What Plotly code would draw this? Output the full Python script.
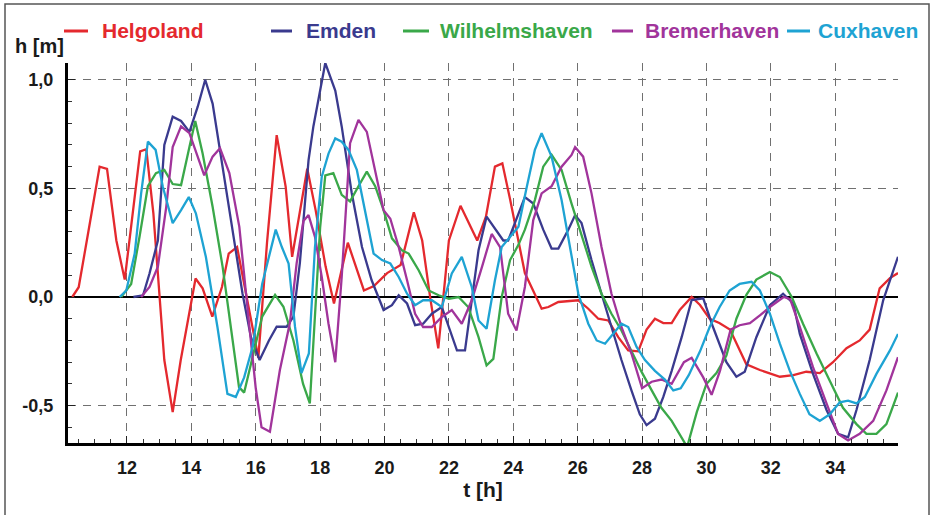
import plotly.graph_objects as go

# ---------------- data ----------------
t_hel = [10.3, 10.5, 10.8, 11.15, 11.38, 11.67, 11.93, 12.15, 12.41, 12.6,
         12.82, 13.16, 13.42, 13.67, 14.13, 14.35, 14.65, 14.95, 15.16, 15.42,
         15.7, 16.08, 16.35, 16.65, 16.93, 17.13, 17.6, 17.86, 18.17, 18.43,
         18.86, 19.36, 19.67, 20.08, 20.5, 20.91, 21.17, 21.43, 21.67, 22.0,
         22.36, 22.88, 23.15, 23.43, 23.66, 23.9, 24.36, 24.62, 24.88, 25.09,
         25.4, 26.02, 26.33, 26.64, 26.95, 27.26, 27.57, 27.88, 28.14, 28.4,
         28.66, 28.92, 29.17, 29.54, 29.8, 30.1, 30.4, 30.73, 31.24, 31.66,
         32.28, 32.7, 33.1, 33.52, 33.93, 34.35, 34.76, 35.07, 35.38, 35.7,
         35.95]
h_hel = [0.0, 0.045, 0.3, 0.60, 0.59, 0.26, 0.08, 0.35, 0.67, 0.68,
         0.385, -0.29, -0.53, -0.29, 0.085, 0.04, -0.09, 0.046, 0.2, 0.23,
         0.02, -0.28, 0.25, 0.745, 0.507, 0.185, 0.59, 0.4, 0.14, -0.03,
         0.25, 0.03, 0.05, 0.11, 0.147, 0.39, 0.26, -0.014, -0.236, 0.26,
         0.42, 0.26, 0.37, 0.6, 0.615, 0.45, 0.11, 0.03, -0.054, -0.046,
         -0.023, -0.015, -0.054, -0.1, -0.108, -0.185, -0.246, -0.25, -0.15, -0.1,
         -0.12, -0.12, -0.06, 0.0, -0.037, -0.1, -0.12, -0.15, -0.31, -0.336,
         -0.367, -0.36, -0.344, -0.35, -0.3, -0.236, -0.2, -0.15, 0.04, 0.087,
         0.11]

t_emd = [12.2, 12.5, 12.7, 12.96, 13.16, 13.42, 13.68, 13.94, 14.2, 14.43,
         14.66, 14.97, 15.28, 15.59, 15.85, 16.12, 16.41, 16.65, 16.96, 17.17,
         17.37, 17.64, 17.79, 18.0, 18.16, 18.47, 18.67, 18.98, 19.3, 19.6,
         19.97, 20.23, 20.44, 20.7, 20.95, 21.2, 21.47, 21.78, 22.25, 22.5,
         22.92, 23.17, 23.69, 23.84, 24.36, 24.62, 24.93, 25.19, 25.4, 25.71,
         25.92, 26.12, 26.43, 26.74, 27.05, 27.36, 27.67, 27.93, 28.14, 28.4,
         28.66, 28.92, 29.23, 29.54, 29.9, 30.2, 30.62, 30.93, 31.19, 31.55,
         31.97, 32.38, 32.7, 32.9, 33.31, 33.73, 34.09, 34.4, 34.66, 35.07,
         35.49, 35.95]
h_emd = [0.0, 0.008, 0.108, 0.26, 0.7, 0.83, 0.81, 0.76, 0.877, 1.0,
         0.89, 0.6, 0.32, 0.015, -0.185, -0.29, -0.2, -0.137, -0.137, -0.09,
         0.156, 0.63, 0.785, 0.95, 1.077, 0.95, 0.785, 0.48, 0.23, 0.077,
         -0.06, -0.038, 0.008, -0.03, -0.13, -0.123, -0.077, -0.046, -0.246, -0.246,
         0.215, 0.37, 0.26, 0.26, 0.46, 0.43, 0.31, 0.223, 0.223, 0.31,
         0.377, 0.34, 0.17, 0.015, -0.14, -0.29, -0.43, -0.54, -0.59, -0.56,
         -0.46, -0.34, -0.185, -0.014, -0.006, -0.137, -0.3, -0.367, -0.344, -0.185,
         -0.038, 0.015, -0.03, -0.17, -0.354, -0.52, -0.63, -0.646, -0.52, -0.29,
         -0.015, 0.185]

t_wil = [11.82, 12.13, 12.39, 12.65, 12.9, 13.16, 13.42, 13.68, 13.94, 14.12,
         14.35, 14.66, 14.97, 15.23, 15.48, 15.64, 15.9, 16.2, 16.6, 16.86,
         17.17, 17.47, 17.68, 18.0, 18.16, 18.41, 18.67, 18.93, 19.19, 19.45,
         19.71, 19.97, 20.23, 20.54, 20.75, 21.06, 21.37, 21.68, 22.0, 22.3,
         22.6, 22.92, 23.17, 23.38, 23.64, 23.9, 24.16, 24.36, 24.67, 24.93,
         25.19, 25.5, 25.81, 26.12, 26.43, 26.74, 27.05, 27.36, 27.67, 27.99,
         28.3, 28.6, 28.92, 29.2, 29.4, 29.7, 30.0, 30.31, 30.62, 30.93,
         31.24, 31.55, 31.97, 32.28, 32.65, 33.0, 33.42, 33.83, 34.24, 34.66,
         34.97, 35.28, 35.59, 35.95]
h_wil = [0.0, 0.06, 0.277, 0.51, 0.57, 0.585, 0.52, 0.515, 0.69, 0.81,
         0.66, 0.415, 0.14, -0.138, -0.415, -0.44, -0.277, -0.09, 0.01, -0.045,
         -0.2, -0.4, -0.49, 0.32, 0.56, 0.57, 0.47, 0.44, 0.51, 0.577,
         0.51, 0.4, 0.27, 0.215, 0.2, 0.123, 0.03, 0.008, -0.008, 0.0,
         -0.046, -0.185, -0.315, -0.285, 0.0, 0.17, 0.24, 0.31, 0.446, 0.6,
         0.654, 0.585, 0.43, 0.29, 0.14, 0.015, -0.077, -0.154, -0.246, -0.346,
         -0.43, -0.51, -0.57, -0.64, -0.69, -0.53, -0.4, -0.35, -0.27, -0.1,
         0.01, 0.08, 0.115, 0.092, 0.0, -0.123, -0.26, -0.385, -0.51, -0.585,
         -0.63, -0.63, -0.585, -0.44]

t_bre = [12.44, 12.7, 12.96, 13.22, 13.42, 13.68, 13.94, 14.2, 14.4, 14.66,
         14.89, 15.18, 15.49, 15.74, 16.0, 16.18, 16.44, 16.75, 17.06, 17.27,
         17.48, 17.64, 17.84, 18.05, 18.26, 18.47, 18.67, 18.93, 19.19, 19.45,
         19.71, 19.97, 20.18, 20.44, 20.7, 20.95, 21.2, 21.47, 21.78, 22.09,
         22.4, 22.71, 23.03, 23.33, 23.59, 23.84, 24.1, 24.36, 24.62, 24.88,
         25.19, 25.5, 25.81, 25.92, 26.17, 26.43, 26.74, 27.05, 27.36, 27.67,
         28.0, 28.3, 28.6, 28.92, 29.3, 29.54, 29.9, 30.16, 30.42, 30.75,
         31.03, 31.35, 31.66, 31.97, 32.4, 32.6, 32.9, 33.31, 33.73, 34.09,
         34.4, 34.76, 35.18, 35.59, 35.95]
h_bre = [0.0, 0.046, 0.14, 0.415, 0.69, 0.785, 0.754, 0.646, 0.56, 0.646,
         0.685, 0.57, 0.323, -0.046, -0.42, -0.6, -0.62, -0.336, -0.12, 0.155,
         0.35, 0.377, 0.277, 0.092, -0.123, -0.3, 0.092, 0.708, 0.815, 0.76,
         0.585, 0.4, 0.36, 0.23, 0.077, -0.077, -0.138, -0.138, -0.092, -0.06,
         -0.123, -0.015, 0.14, 0.29, 0.23, -0.077, -0.154, 0.046, 0.354, 0.477,
         0.51, 0.6, 0.654, 0.69, 0.646, 0.477, 0.23, 0.015, -0.138, -0.26,
         -0.42, -0.39, -0.38, -0.4, -0.3, -0.28, -0.37, -0.45, -0.34, -0.15,
         -0.13, -0.12, -0.085, -0.046, 0.0, -0.01, -0.138, -0.323, -0.49, -0.63,
         -0.66, -0.63, -0.57, -0.43, -0.277]

t_cux = [11.77, 11.98, 12.24, 12.44, 12.65, 12.89, 13.11, 13.42, 13.68, 13.92,
         14.14, 14.45, 14.81, 15.12, 15.38, 15.64, 15.9, 16.2, 16.62, 16.81,
         17.02, 17.22, 17.42, 17.65, 17.84, 18.05, 18.26, 18.47, 18.67, 18.88,
         19.14, 19.4, 19.66, 19.92, 20.18, 20.44, 20.7, 20.95, 21.2, 21.47,
         21.78, 22.09, 22.4, 22.71, 22.92, 23.17, 23.43, 23.64, 23.9, 24.16,
         24.41, 24.67, 24.88, 25.19, 25.5, 25.76, 26.02, 26.33, 26.59, 26.85,
         27.1, 27.36, 27.57, 27.83, 28.09, 28.4, 28.71, 28.97, 29.2, 29.45,
         29.8, 30.1, 30.41, 30.72, 31.03, 31.4, 31.66, 31.97, 32.28, 32.59,
         32.9, 33.2, 33.52, 33.83, 34.14, 34.4, 34.66, 34.92, 35.28, 35.7,
         35.95]
h_cux = [0.0, 0.03, 0.2, 0.477, 0.715, 0.677, 0.51, 0.34, 0.4, 0.46,
         0.385, 0.185, -0.138, -0.446, -0.46, -0.37, -0.23, 0.06, 0.31, 0.23,
         0.154, -0.138, -0.35, -0.26, 0.23, 0.554, 0.66, 0.73, 0.715, 0.677,
         0.585, 0.4, 0.2, 0.17, 0.154, 0.092, 0.015, -0.038, -0.015, -0.015,
         -0.046, 0.108, 0.185, 0.046, -0.108, -0.146, 0.077, 0.23, 0.277, 0.323,
         0.5, 0.677, 0.754, 0.646, 0.446, 0.23, 0.015, -0.123, -0.2, -0.215,
         -0.17, -0.123, -0.138, -0.23, -0.29, -0.34, -0.38, -0.43, -0.42, -0.36,
         -0.25, -0.138, -0.046, 0.03, 0.06, 0.07, 0.03, -0.077, -0.215, -0.34,
         -0.446, -0.54, -0.57, -0.54, -0.485, -0.477, -0.49, -0.46, -0.354, -0.246,
         -0.17]

stations = ["Helgoland", "Emden", "Wilhelmshaven", "Bremerhaven", "Cuxhaven"]
colors = ["#e4292e", "#3a3a8e", "#3aa849", "#a1349b", "#1ea3d3"]
times = [t_hel, t_emd, t_wil, t_bre, t_cux]
heights = [h_hel, h_emd, h_wil, h_bre, h_cux]

x_tickvals = [12, 14, 16, 18, 20, 22, 24, 26, 28, 30, 32, 34]
x_ticktext = ["12", "14", "16", "18", "20", "22", "24", "26", "28", "30", "32", "34"]
y_tickvals = [-0.5, 0.0, 0.5, 1.0]
y_ticktext = ["-0,5", "0,0", "0,5", "1,0"]

# ---------------- figure ----------------
W, H = 934, 515
ML, MR, MT, MB = 68, 36, 63, 72
PW, PH = W - ML - MR, H - MT - MB


def px_x(p):
    return (p - ML) / PW


def px_y(p):
    return 1 + (MT - p) / PH


fig = go.Figure()
for name, t, h, c in zip(stations, times, heights, colors):
    fig.add_trace(go.Scatter(
        x=t, y=h, mode="lines", name=name,
        line=dict(color=c, width=2.3), showlegend=False,
    ))

# legend drawn above the plot (line sample + coloured name)
leg_line_x = [(64, 88), (271, 292), (403, 429), (612, 633), (787, 810)]
leg_text_x = [100, 304, 438, 643, 816]
LEG_Y = 31
annotations = []
shapes = []
for name, c, (a, b), tx in zip(stations, colors, leg_line_x, leg_text_x):
    shapes.append(dict(type="line", xref="paper", yref="paper",
                       x0=px_x(a), x1=px_x(b), y0=px_y(LEG_Y), y1=px_y(LEG_Y),
                       line=dict(color=c, width=3)))
    annotations.append(dict(text=name, xref="paper", yref="paper",
                            x=px_x(tx), y=px_y(LEG_Y), xanchor="left", yanchor="middle",
                            showarrow=False,
                            font=dict(family="Liberation Sans, Arial", size=21,
                                      color=c, weight="bold")))

annotations.append(dict(text="<b>h [m]</b>", xref="paper", yref="paper",
                        x=px_x(39), y=px_y(46), xanchor="center", yanchor="middle",
                        showarrow=False,
                        font=dict(family="Liberation Sans, Arial", size=20, color="#1a1a1a")))
shapes.append(dict(type="rect", xref="paper", yref="paper",
                   x0=px_x(5), x1=px_x(929), y0=px_y(530), y1=px_y(4),
                   line=dict(color="#555", width=1.5), layer="below"))

tickfont = dict(family="Liberation Sans Narrow, Arial Narrow, Liberation Sans, Arial",
                size=18, color="#1a1a1a", weight="bold")
x_range = [10.168, 35.95]
y_range = [-0.672, 1.077]

fig.update_layout(
    width=W, height=H,
    margin=dict(l=ML, r=MR, t=MT, b=MB),
    paper_bgcolor="white", plot_bgcolor="white",
    showlegend=False,
    xaxis=dict(
        range=x_range, tickmode="array", tickvals=x_tickvals, ticktext=x_ticktext,
        ticks="inside", ticklen=7, tickwidth=1.2, tickcolor="#222",
        showline=True, linecolor="black", linewidth=3,
        showgrid=True, gridcolor="#707070", griddash="8px,7px", gridwidth=1.3,
        zeroline=False, tickfont=tickfont, ticklabelstandoff=6,
        minor=dict(ticks="inside", ticklen=4, tickwidth=1, tickcolor="#333",
                   tickmode="linear", tick0=0, dtick=0.5, showgrid=False),
        title=dict(text="t [h]", standoff=6,
                   font=dict(family="Liberation Sans, Arial", size=21,
                             color="#1a1a1a", weight="bold")),
    ),
    yaxis=dict(
        range=y_range, tickmode="array", tickvals=y_tickvals, ticktext=y_ticktext,
        ticks="inside", ticklen=7, tickwidth=1.2, tickcolor="#222",
        showline=True, linecolor="black", linewidth=3,
        showgrid=True, gridcolor="#707070", griddash="8px,7px", gridwidth=1.3,
        zeroline=True, zerolinecolor="black", zerolinewidth=2,
        tickfont=tickfont, ticklabelstandoff=8,
        minor=dict(ticks="inside", ticklen=4, tickwidth=1, tickcolor="#333",
                   tickmode="linear", tick0=0, dtick=0.1, showgrid=False),
    ),
    xaxis2=dict(
        overlaying="x", matches="x", side="top", anchor="y",
        tickmode="array", tickvals=x_tickvals, showticklabels=False,
        ticks="inside", ticklen=7, tickwidth=1.2, tickcolor="#333",
        showline=True, linecolor="#777", linewidth=1.2, showgrid=False, zeroline=False,
        minor=dict(ticks="inside", ticklen=4, tickwidth=1, tickcolor="#444",
                   tickmode="linear", tick0=0, dtick=0.5, showgrid=False),
    ),
    yaxis2=dict(
        overlaying="y", matches="y", side="right", anchor="x",
        tickmode="array", tickvals=y_tickvals, showticklabels=False,
        ticks="inside", ticklen=7, tickwidth=1.2, tickcolor="#333",
        showline=True, linecolor="#777", linewidth=1.2, showgrid=False, zeroline=False,
        minor=dict(ticks="inside", ticklen=4, tickwidth=1, tickcolor="#444",
                   tickmode="linear", tick0=0, dtick=0.1, showgrid=False),
    ),
    annotations=annotations,
    shapes=shapes,
)

fig.write_html("out.html")
